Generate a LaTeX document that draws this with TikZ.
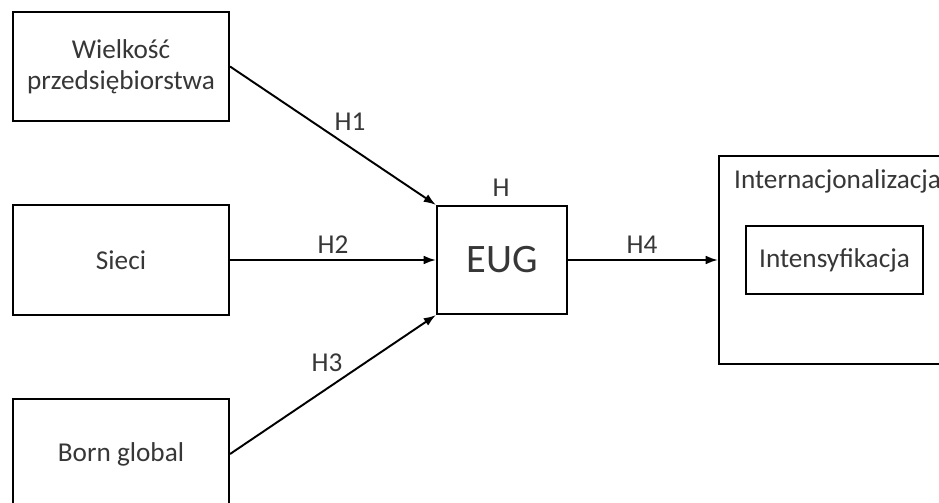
\documentclass[tikz,border=0pt]{standalone}
\usepackage{fontspec}
\setmainfont{Carlito}
\usetikzlibrary{arrows.meta}
\definecolor{txtgray}{RGB}{55, 55, 55}

\begin{document}
\begin{tikzpicture}[x=0.02cm, y=-0.02cm,
    blk/.style={rectangle, draw=black, line width=1.2pt, fill=white,
                align=center, text=txtgray,
                font=\fontsize{15.5}{17.5}\selectfont},
    lbl/.style={text=txtgray, font=\fontsize{15.5}{17.5}\selectfont},
    arr/.style={-{Latex[length=7pt, width=5pt]}, line width=1.1pt}]

    \useasboundingbox (0,0) rectangle (939,503);
    \clip (0,0) rectangle (939,503);

    % Zmienne wejsciowe
    \node[blk, minimum width=4.32cm, minimum height=2.18cm]
        (size) at (121,66.5) {Wielkość\\przedsiębiorstwa};
    \node[blk, minimum width=4.32cm, minimum height=2.2cm]
        (net)  at (121,260)  {Sieci};
    \node[blk, minimum width=4.32cm, minimum height=2.2cm]
        (born) at (121,454)  {Born global};

    % EUG
    \node[blk, minimum width=2.6cm, minimum height=2.16cm,
          font=\fontsize{23}{26}\selectfont]
        (eug)  at (502,260)  {EUG};

    % Internacjonalizacja
    \node[blk, minimum width=4.84cm, minimum height=4.16cm]
        (intl) at (840,260)  {};
    \node[lbl, anchor=west] (intlt) at (728,181) {Internacjonalizacja};
    \node[blk, minimum width=3.54cm, minimum height=1.36cm]
        (intens) at (834.5,260) {Intensyfikacja};

    % Sciezki
    \draw[arr] (size.east) -- (eug.north west);
    \draw[arr] (net.east)  -- (eug.west);
    \draw[arr] (born.east) -- (eug.south west);
    \draw[arr] (eug.east)  -- (intl.west);

    % Hipotezy
    \node[lbl] (h1) at (350,122) {H1};
    \node[lbl] (h2) at (333,245) {H2};
    \node[lbl] (h3) at (327,363) {H3};
    \node[lbl] (h)  at (501,188) {H};
    \node[lbl] (h4) at (642,245) {H4};

\end{tikzpicture}
\end{document}
